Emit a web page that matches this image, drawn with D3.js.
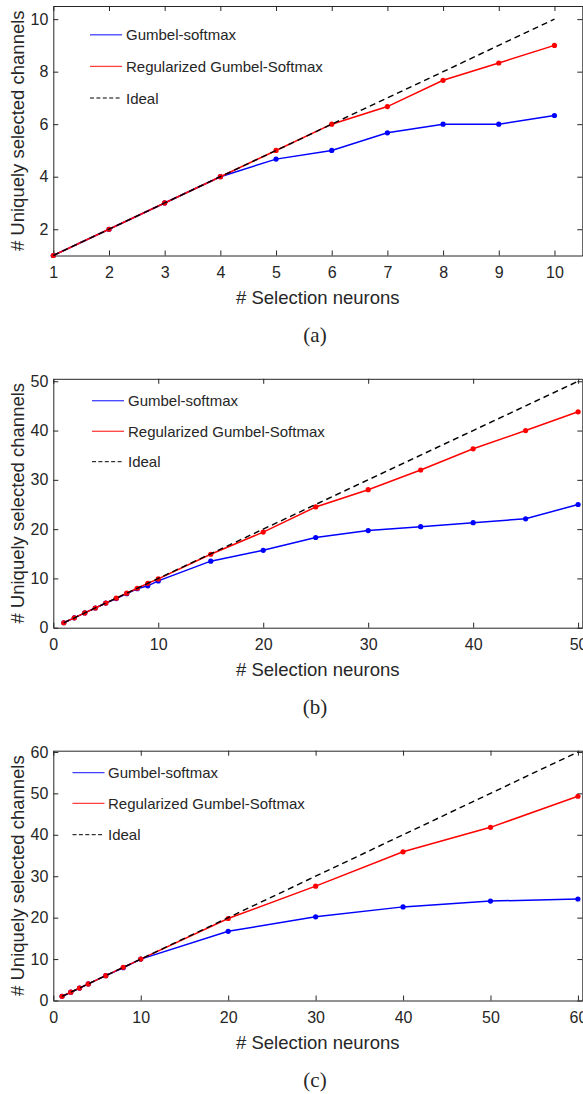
<!DOCTYPE html>
<html>
<head>
<meta charset="utf-8">
<script src="https://cdn.jsdelivr.net/npm/d3@7"></script>
<style>
  html, body { margin: 0; padding: 0; background: #fff; }
  svg { display: block; }
  text { font-family: "Liberation Sans", Arial, Helvetica, sans-serif; fill: #262626; }
</style>
</head>
<body>
<svg id="chart" width="583" height="1094"></svg>
<script>
// ---------- data ----------
const seriesNames = ["Gumbel-softmax", "Regularized Gumbel-Softmax", "Ideal"];
const xTitle = "# Selection neurons";
const yTitle = "# Uniquely selected channels";
const panelLabels = ["(a)", "(b)", "(c)"];

// panel (a)
const aX       = [1, 2, 3, 4, 5, 6, 7, 8, 9, 10];
const aGumbel  = [1, 2, 3, 4, 4.67, 5, 5.67, 6, 6, 6.33];
const aReg     = [1, 2, 3, 4, 5, 6, 6.67, 7.67, 8.33, 9];
const aIdeal   = [1, 2, 3, 4, 5, 6, 7, 8, 9, 10];
const aXTicks  = [1, 2, 3, 4, 5, 6, 7, 8, 9, 10];
const aYTicks  = [2, 4, 6, 8, 10];

// panel (b)
const bX       = [1, 2, 3, 4, 5, 6, 7, 8, 9, 10, 15, 20, 25, 30, 35, 40, 45, 50];
const bGumbel  = [1, 2, 3, 4, 5, 5.9, 6.9, 7.9, 8.5, 9.5, 13.5, 15.7, 18.3, 19.7, 20.5, 21.3, 22.1, 25.0];
const bReg     = [1, 2, 3, 4, 5, 6, 7, 8, 9, 9.9, 14.9, 19.4, 24.5, 28.0, 32.0, 36.3, 40.0, 43.8];
const bIdeal   = [1, 2, 3, 4, 5, 6, 7, 8, 9, 10, 15, 20, 25, 30, 35, 40, 45, 50];
const bXTicks  = [0, 10, 20, 30, 40, 50];
const bYTicks  = [0, 10, 20, 30, 40, 50];

// panel (c)
const cX       = [1, 2, 3, 4, 6, 8, 10, 20, 30, 40, 50, 60];
const cGumbel  = [1, 2, 3, 4, 6, 7.9, 10, 16.7, 20.2, 22.6, 24.0, 24.5];
const cReg     = [1, 2, 3, 4, 6, 8, 10, 19.8, 27.6, 35.9, 41.8, 49.3];
const cIdeal   = [1, 2, 3, 4, 6, 8, 10, 20, 30, 40, 50, 60];
const cXTicks  = [0, 10, 20, 30, 40, 50, 60];
const cYTicks  = [0, 10, 20, 30, 40, 50, 60];

// ---------- layout ----------
const colors = ["#0000ff", "#ff0000", "#000000"];
const left = 53.3, right = 582.3;

const panels = [
  { x: aX, ys: [aGumbel, aReg, aIdeal], xDom: [1, 10.5], yDom: [1, 10.5],
    xTicks: aXTicks, yTicks: aYTicks, top: 6, bottom: 255.5,
    legX: 90, legTextX: 126, legY: [34.8, 66.4, 98], label: panelLabels[0] },
  { x: bX, ys: [bGumbel, bReg, bIdeal], xDom: [0, 50.4], yDom: [0, 50.5],
    xTicks: bXTicks, yTicks: bYTicks, top: 378.8, bottom: 627.7,
    legX: 92, legTextX: 128, legY: [400.7, 431.3, 461.7], label: panelLabels[1] },
  { x: cX, ys: [cGumbel, cReg, cIdeal], xDom: [0, 60.5], yDom: [0, 60.3],
    xTicks: cXTicks, yTicks: cYTicks, top: 750.7, bottom: 1000.5,
    legX: 72.5, legTextX: 108, legY: [772.7, 803.3, 834.7], label: panelLabels[2] }
];

const svg = d3.select("#chart");

panels.forEach(p => {
  const x = d3.scaleLinear().domain(p.xDom).range([left, right]);
  const y = d3.scaleLinear().domain(p.yDom).range([p.bottom, p.top]);
  const g = svg.append("g");

  const styleAxis = sel => {
    sel.selectAll("path.domain").attr("stroke", "#262626").attr("stroke-width", 1);
    sel.selectAll(".tick line").attr("stroke", "#262626").attr("stroke-width", 1);
    sel.selectAll(".tick text").style("font-family", '"Liberation Sans", Arial, sans-serif')
      .style("font-size", "16px").attr("fill", "#262626");
  };

  g.append("g").attr("transform", `translate(0,${p.bottom})`)
    .call(d3.axisBottom(x).tickValues(p.xTicks).tickFormat(d3.format("d"))
      .tickSizeInner(-5).tickSizeOuter(0).tickPadding(11))
    .call(styleAxis);
  g.append("g").attr("transform", `translate(0,${p.top})`)
    .call(d3.axisTop(x).tickValues(p.xTicks).tickFormat("")
      .tickSizeInner(-5).tickSizeOuter(0))
    .call(styleAxis);
  g.append("g").attr("transform", `translate(${left},0)`)
    .call(d3.axisLeft(y).tickValues(p.yTicks).tickFormat(d3.format("d"))
      .tickSizeInner(-5).tickSizeOuter(0).tickPadding(5))
    .call(styleAxis);
  g.append("g").attr("transform", `translate(${right},0)`)
    .call(d3.axisRight(y).tickValues(p.yTicks).tickFormat("")
      .tickSizeInner(-5).tickSizeOuter(0))
    .call(styleAxis);

  p.ys.forEach((vals, i) => {
    const pts = p.x.map((xv, j) => [xv, vals[j]]);
    const line = d3.line().x(d => x(d[0])).y(d => y(d[1]));
    g.append("path").datum(pts)
      .attr("d", line)
      .attr("fill", "none")
      .attr("stroke", colors[i])
      .attr("stroke-width", i === 2 ? 1.4 : 1.5)
      .attr("stroke-dasharray", i === 2 ? "6,4" : null);
    if (i < 2) {
      g.selectAll(null).data(pts).enter().append("circle")
        .attr("cx", d => x(d[0])).attr("cy", d => y(d[1]))
        .attr("r", 2.6).attr("fill", colors[i]);
    }
  });

  seriesNames.forEach((name, i) => {
    g.append("line")
      .attr("x1", p.legX).attr("x2", p.legX + 32)
      .attr("y1", p.legY[i]).attr("y2", p.legY[i])
      .attr("stroke", colors[i])
      .attr("stroke-width", i === 2 ? 1 : 1.3)
      .attr("stroke-opacity", i === 2 ? 1 : 0.75)
      .attr("stroke-dasharray", i === 2 ? "4,2.4" : null);
    g.append("text")
      .attr("x", p.legTextX).attr("y", p.legY[i])
      .attr("dominant-baseline", "central")
      .style("font-size", "15px")
      .text(name);
  });

  g.append("text")
    .attr("x", (left + right) / 2).attr("y", p.bottom + 48.5)
    .attr("text-anchor", "middle")
    .style("font-size", "18.5px")
    .text(xTitle);
  g.append("text")
    .attr("transform", `translate(17,${(p.top + p.bottom) / 2}) rotate(-90)`)
    .attr("text-anchor", "middle")
    .attr("dominant-baseline", "central")
    .style("font-size", "18.5px")
    .text(yTitle);

  g.append("text")
    .attr("x", 315).attr("y", p.bottom + 86.5)
    .attr("text-anchor", "middle")
    .style("font-family", '"Liberation Serif", "Times New Roman", serif')
    .style("font-size", "21px")
    .attr("fill", "#000")
    .text(p.label);
});
</script>
</body>
</html>
